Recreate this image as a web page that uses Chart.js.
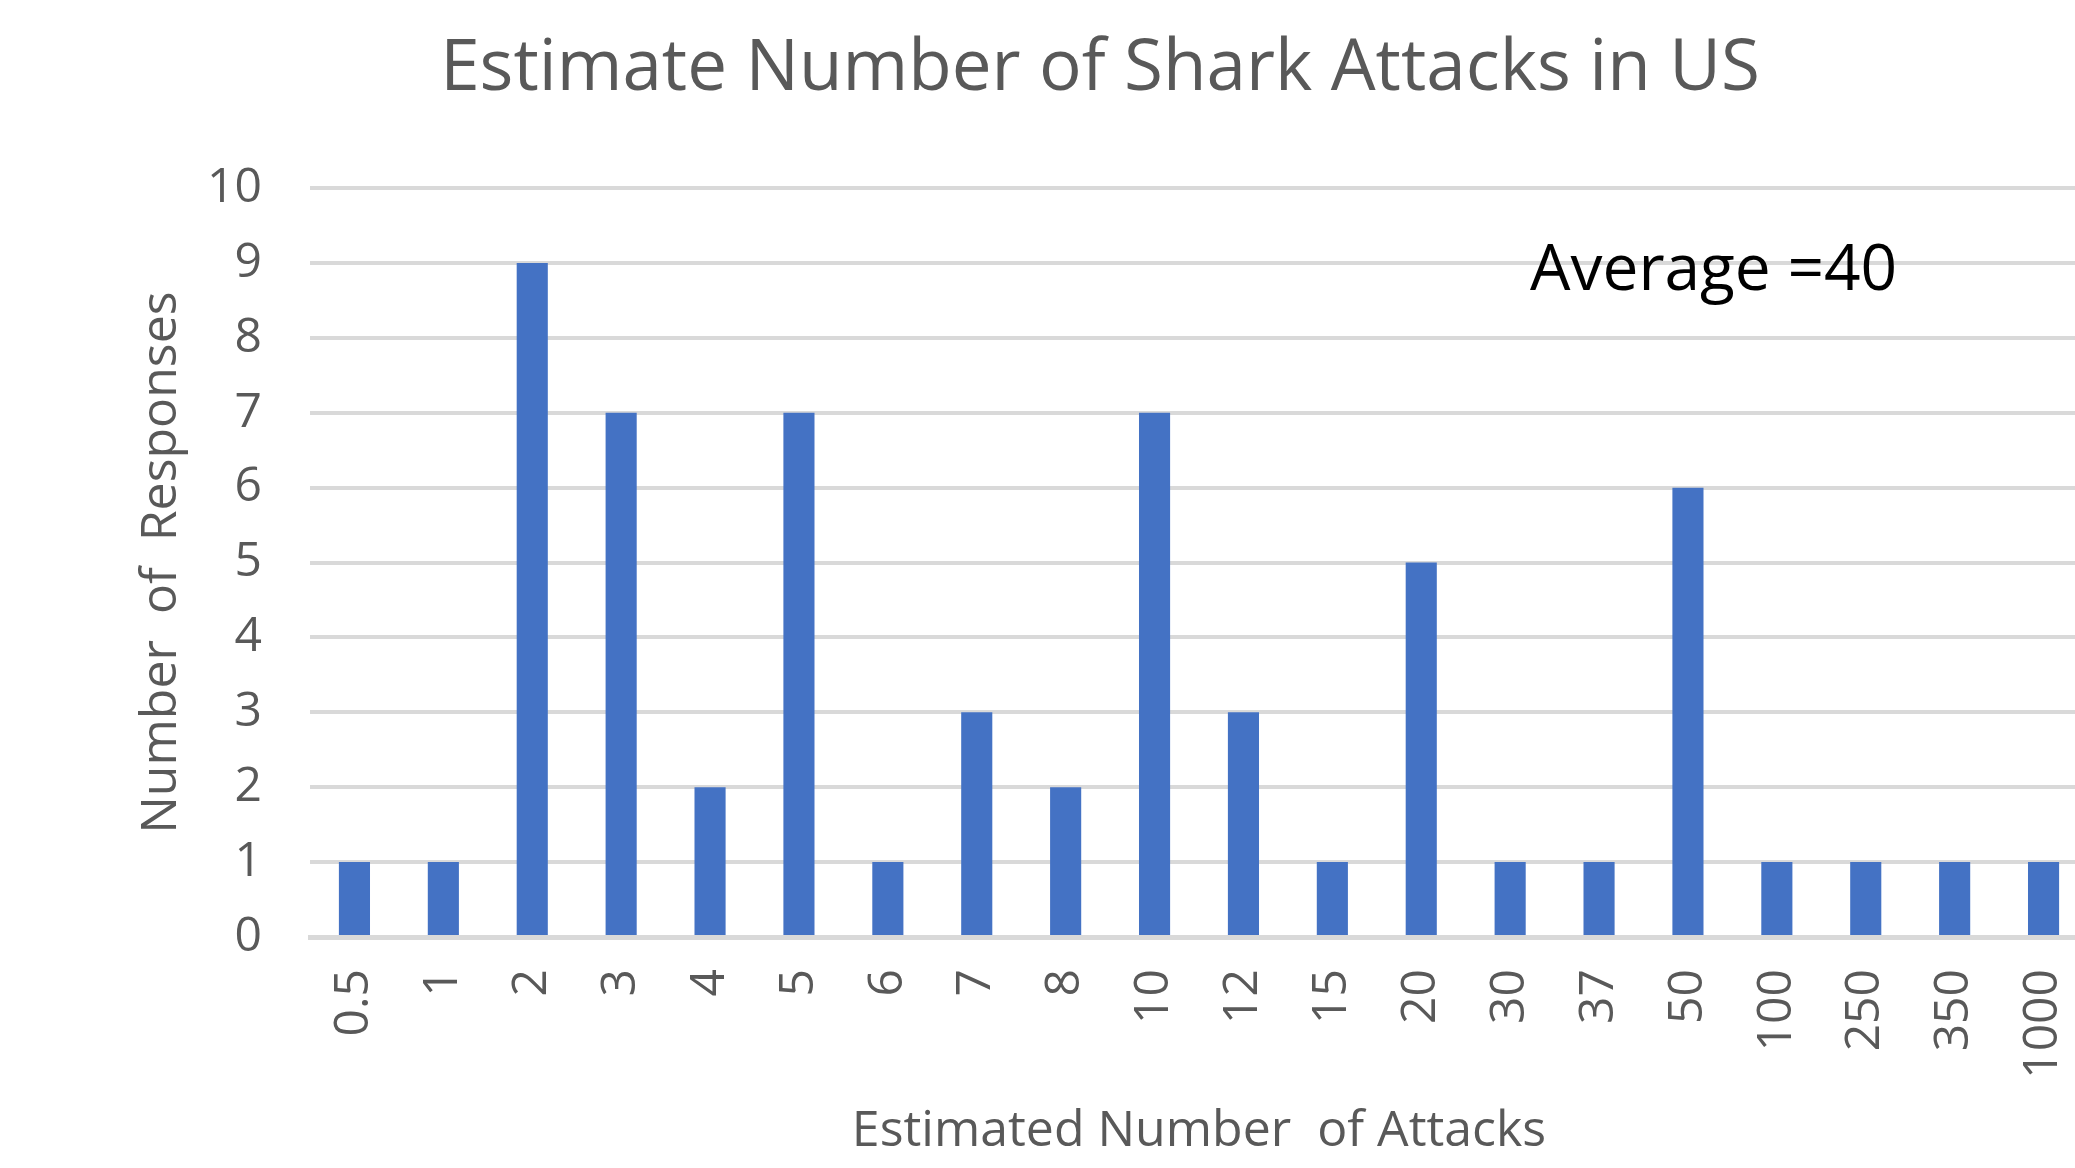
<!DOCTYPE html>
<html lang="en">
<head>
  <meta charset="UTF-8">
  <title>Estimate Number of Shark Attacks in US</title>
  <script src="https://cdn.jsdelivr.net/npm/chart.js"></script>
  <style>
    body {
      margin: 0;
      background: #ffffff;
      overflow: hidden;
    }
    canvas {
      display: block;
    }
  </style>
</head>
<body>
  <canvas id="sharkChart" width="2200" height="1168"></canvas>

  <script>
    // estimated number of attacks (categories) and how many people answered each
    const estimates = ['0.5', '1', '2', '3', '4', '5', '6', '7', '8', '10', '12', '15', '20', '30', '37', '50', '100', '250', '350', '1000'];
    const responses = [1, 1, 9, 7, 2, 7, 1, 3, 2, 7, 3, 1, 5, 1, 1, 6, 1, 1, 1, 1];
    const averageNote = 'Average =40';

    const gray = '#595959';
    const gridGray = '#d9d9d9';

    // text box on the chart, drawn over the grid
    const notePlugin = {
      id: 'note',
      afterDraw(chart) {
        const ctx = chart.ctx;
        ctx.save();
        ctx.font = '64px "Open Sans"';
        ctx.fillStyle = '#000000';
        ctx.textBaseline = 'alphabetic';
        ctx.textAlign = 'left';
        ctx.fillText(averageNote, 1530, 290);
        ctx.restore();
      }
    };

    const ctx = document.getElementById('sharkChart').getContext('2d');
    new Chart(ctx, {
      type: 'bar',
      data: {
        labels: estimates,
        datasets: [{
          label: 'Responses',
          data: responses,
          backgroundColor: '#4472c4',
          borderWidth: 0,
          barPercentage: 0.35,
          categoryPercentage: 1
        }]
      },
      options: {
        responsive: false,
        animation: false,
        layout: {
          padding: { left: 112, right: 112, top: 0, bottom: 6 }
        },
        plugins: {
          legend: { display: false },
          tooltip: { enabled: false },
          title: {
            display: true,
            text: 'Estimate Number of Shark Attacks in US',
            color: gray,
            font: { family: 'Open Sans', size: 71, weight: 'normal' },
            padding: { top: 27, bottom: 76 }
          }
        },
        scales: {
          x: {
            grid: { display: false },
            border: { display: true, color: gridGray, width: 5 },
            ticks: {
              color: gray,
              font: { family: 'Open Sans', size: 48 },
              minRotation: 90,
              maxRotation: 90,
              autoSkip: false,
              padding: 24
            },
            title: {
              display: true,
              text: 'Estimated Number  of Attacks',
              color: gray,
              font: { family: 'Open Sans', size: 50 },
              padding: 0
            },
            afterFit(scale) {
              scale.height = 225;
            }
          },
          y: {
            min: 0,
            max: 10,
            grid: { color: gridGray, lineWidth: 4, drawTicks: false },
            border: { display: false },
            ticks: {
              stepSize: 1,
              color: gray,
              font: { family: 'Open Sans', size: 48 },
              padding: 48
            },
            title: {
              display: true,
              text: 'Number  of  Responses',
              color: gray,
              font: { family: 'Open Sans', size: 50 },
              padding: { top: 20, bottom: 0 }
            },
            afterFit(scale) {
              scale.width = 198;
            }
          }
        }
      },
      plugins: [notePlugin]
    });
  </script>
</body>
</html>
